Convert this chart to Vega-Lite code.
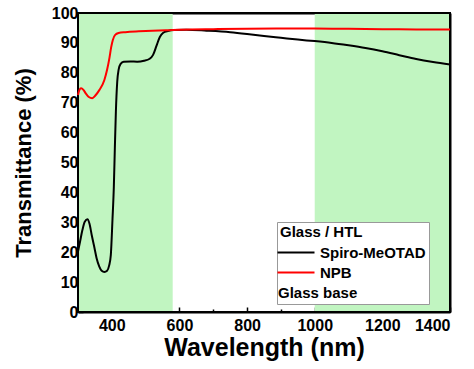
{
  "$schema": "https://vega.github.io/schema/vega-lite/v6.json",
  "width": 372,
  "height": 299,
  "autosize": "none",
  "padding": {"left": 78, "top": 13, "right": 24, "bottom": 57},
  "background": "white",
  "config": {
    "font": "Liberation Sans",
    "view": {"stroke": "black", "strokeWidth": 2},
    "axis": {
      "grid": false,
      "domainColor": "black",
      "domainWidth": 2,
      "tickColor": "black",
      "tickWidth": 1.5,
      "labelFont": "Liberation Sans",
      "labelFontSize": 16,
      "labelFontWeight": "bold",
      "labelColor": "black",
      "titleFont": "Liberation Sans",
      "titleFontWeight": "bold",
      "titleColor": "black",
      "zindex": 1
    }
  },
  "datasets": {
    "bands": [
      {"start": 300, "end": 580},
      {"start": 1000, "end": 1400}
    ],
    "frame": [
      {"x0": 300, "x1": 1400, "y0": 0, "y1": 100}
    ],
    "curves": [
      {"wl": 300, "T": 20.2, "s": "Spiro-MeOTAD"},
      {"wl": 306, "T": 23.5, "s": "Spiro-MeOTAD"},
      {"wl": 313, "T": 27.4, "s": "Spiro-MeOTAD"},
      {"wl": 320, "T": 30.2, "s": "Spiro-MeOTAD"},
      {"wl": 328, "T": 31, "s": "Spiro-MeOTAD"},
      {"wl": 334, "T": 29.5, "s": "Spiro-MeOTAD"},
      {"wl": 341, "T": 25.5, "s": "Spiro-MeOTAD"},
      {"wl": 348, "T": 21.8, "s": "Spiro-MeOTAD"},
      {"wl": 355, "T": 18, "s": "Spiro-MeOTAD"},
      {"wl": 363, "T": 15.2, "s": "Spiro-MeOTAD"},
      {"wl": 370, "T": 13.8, "s": "Spiro-MeOTAD"},
      {"wl": 378, "T": 13.4, "s": "Spiro-MeOTAD"},
      {"wl": 386, "T": 13.8, "s": "Spiro-MeOTAD"},
      {"wl": 392, "T": 15.5, "s": "Spiro-MeOTAD"},
      {"wl": 397, "T": 19, "s": "Spiro-MeOTAD"},
      {"wl": 402, "T": 31, "s": "Spiro-MeOTAD"},
      {"wl": 406, "T": 42, "s": "Spiro-MeOTAD"},
      {"wl": 409, "T": 55, "s": "Spiro-MeOTAD"},
      {"wl": 412, "T": 67, "s": "Spiro-MeOTAD"},
      {"wl": 416, "T": 77, "s": "Spiro-MeOTAD"},
      {"wl": 420, "T": 81, "s": "Spiro-MeOTAD"},
      {"wl": 426, "T": 83, "s": "Spiro-MeOTAD"},
      {"wl": 435, "T": 83.7, "s": "Spiro-MeOTAD"},
      {"wl": 455, "T": 83.8, "s": "Spiro-MeOTAD"},
      {"wl": 475, "T": 83.7, "s": "Spiro-MeOTAD"},
      {"wl": 495, "T": 84, "s": "Spiro-MeOTAD"},
      {"wl": 512, "T": 84.7, "s": "Spiro-MeOTAD"},
      {"wl": 522, "T": 86, "s": "Spiro-MeOTAD"},
      {"wl": 532, "T": 89, "s": "Spiro-MeOTAD"},
      {"wl": 542, "T": 92, "s": "Spiro-MeOTAD"},
      {"wl": 552, "T": 93.4, "s": "Spiro-MeOTAD"},
      {"wl": 566, "T": 94, "s": "Spiro-MeOTAD"},
      {"wl": 585, "T": 94.3, "s": "Spiro-MeOTAD"},
      {"wl": 620, "T": 94.4, "s": "Spiro-MeOTAD"},
      {"wl": 680, "T": 94.1, "s": "Spiro-MeOTAD"},
      {"wl": 750, "T": 93.6, "s": "Spiro-MeOTAD"},
      {"wl": 800, "T": 93, "s": "Spiro-MeOTAD"},
      {"wl": 850, "T": 92.3, "s": "Spiro-MeOTAD"},
      {"wl": 900, "T": 91.7, "s": "Spiro-MeOTAD"},
      {"wl": 950, "T": 91.1, "s": "Spiro-MeOTAD"},
      {"wl": 1000, "T": 90.6, "s": "Spiro-MeOTAD"},
      {"wl": 1050, "T": 90, "s": "Spiro-MeOTAD"},
      {"wl": 1100, "T": 89.2, "s": "Spiro-MeOTAD"},
      {"wl": 1150, "T": 88.3, "s": "Spiro-MeOTAD"},
      {"wl": 1200, "T": 87.2, "s": "Spiro-MeOTAD"},
      {"wl": 1250, "T": 85.9, "s": "Spiro-MeOTAD"},
      {"wl": 1300, "T": 84.6, "s": "Spiro-MeOTAD"},
      {"wl": 1350, "T": 83.6, "s": "Spiro-MeOTAD"},
      {"wl": 1400, "T": 82.8, "s": "Spiro-MeOTAD"},
      {"wl": 300, "T": 72.6, "s": "NPB"},
      {"wl": 304, "T": 74.2, "s": "NPB"},
      {"wl": 309, "T": 74.8, "s": "NPB"},
      {"wl": 316, "T": 74.3, "s": "NPB"},
      {"wl": 323, "T": 73.1, "s": "NPB"},
      {"wl": 332, "T": 71.9, "s": "NPB"},
      {"wl": 342, "T": 71.5, "s": "NPB"},
      {"wl": 352, "T": 72.5, "s": "NPB"},
      {"wl": 363, "T": 74.2, "s": "NPB"},
      {"wl": 378, "T": 77.6, "s": "NPB"},
      {"wl": 386, "T": 81, "s": "NPB"},
      {"wl": 393, "T": 85, "s": "NPB"},
      {"wl": 398, "T": 88.5, "s": "NPB"},
      {"wl": 403, "T": 91, "s": "NPB"},
      {"wl": 410, "T": 92.7, "s": "NPB"},
      {"wl": 420, "T": 93.3, "s": "NPB"},
      {"wl": 440, "T": 93.6, "s": "NPB"},
      {"wl": 480, "T": 93.9, "s": "NPB"},
      {"wl": 520, "T": 94.1, "s": "NPB"},
      {"wl": 560, "T": 94.2, "s": "NPB"},
      {"wl": 600, "T": 94.4, "s": "NPB"},
      {"wl": 700, "T": 94.6, "s": "NPB"},
      {"wl": 800, "T": 94.7, "s": "NPB"},
      {"wl": 900, "T": 94.8, "s": "NPB"},
      {"wl": 1000, "T": 94.8, "s": "NPB"},
      {"wl": 1100, "T": 94.7, "s": "NPB"},
      {"wl": 1200, "T": 94.6, "s": "NPB"},
      {"wl": 1300, "T": 94.5, "s": "NPB"},
      {"wl": 1400, "T": 94.5, "s": "NPB"}
    ]
  },
  "layer": [
    {
      "data": {"name": "bands"},
      "mark": {"type": "rect", "color": "#c1f5c1"},
      "encoding": {
        "x": {
          "field": "start", "type": "quantitative",
          "scale": {"domain": [300, 1400], "nice": false, "zero": false},
          "axis": {"orient": "bottom", "values": [300, 500, 700, 900, 1100, 1300], "tickSize": -3, "labels": false, "domain": false, "title": null}
        },
        "x2": {"field": "end"},
        "y": {
          "datum": 0, "type": "quantitative",
          "scale": {"domain": [0, 100], "nice": false},
          "axis": {"orient": "left", "values": [5, 15, 25, 35, 45, 55, 65, 75, 85, 95], "tickSize": -3, "labels": false, "domain": false, "title": null}
        },
        "y2": {"datum": 100}
      }
    },
    {
      "data": {"name": "frame"},
      "mark": {"type": "rect", "fill": "white", "fillOpacity": 0, "stroke": "black", "strokeWidth": 2},
      "encoding": {
        "x": {"field": "x0", "type": "quantitative", "axis": {"labelColor": "rgba(0,0,0,0)", "tickColor": "rgba(0,0,0,0)", "title": null}},
        "x2": {"field": "x1"},
        "y": {"field": "y0", "type": "quantitative", "axis": {"labelColor": "rgba(0,0,0,0)", "tickColor": "rgba(0,0,0,0)", "title": null}},
        "y2": {"field": "y1"}
      }
    },
    {
      "data": {"name": "curves"},
      "mark": {"type": "line", "strokeWidth": 2, "interpolate": "monotone"},
      "encoding": {
        "x": {
          "field": "wl", "type": "quantitative",
          "axis": {"orient": "bottom", "values": [400, 600, 800, 1000, 1200, 1400], "format": "d", "tickSize": -5, "labelPadding": 10, "title": "Wavelength (nm)", "titleFontSize": 25, "titlePadding": 2}
        },
        "y": {
          "field": "T", "type": "quantitative",
          "axis": {"orient": "left", "values": [0, 10, 20, 30, 40, 50, 60, 70, 80, 90, 100], "tickSize": -5, "labelPadding": 5, "title": "Transmittance (%)", "titleFontSize": 22, "titlePadding": 16}
        },
        "color": {
          "field": "s", "type": "nominal",
          "scale": {"domain": ["Spiro-MeOTAD", "NPB", "Glass base"], "range": ["black", "#ff0000", "rgba(0,0,0,0)"]},
          "legend": {
            "orient": "none",
            "legendX": 199,
            "legendY": 209,
            "title": "Glass / HTL",
            "titleFont": "Liberation Sans",
            "titleFontSize": 15,
            "titleFontWeight": "bold",
            "titleColor": "black",
            "titlePadding": 5,
            "labelFont": "Liberation Sans",
            "labelFontSize": 15,
            "labelFontWeight": "bold",
            "labelColor": "black",
            "labelOffset": 25,
            "symbolType": "M-2,0H5.4",
            "symbolSize": 100,
            "symbolStrokeWidth": 2,
            "rowPadding": 4,
            "padding": 3,
            "strokeColor": "#999999",
            "fillColor": "white",
            "encode": {
              "labels": {"update": {"dx": [{"test": "datum.label === 'Glass base'", "value": -42}, {"value": 0}]}}
            }
          }
        }
      }
    }
  ],
  "resolve": {"axis": {"x": "independent", "y": "independent"}}
}
